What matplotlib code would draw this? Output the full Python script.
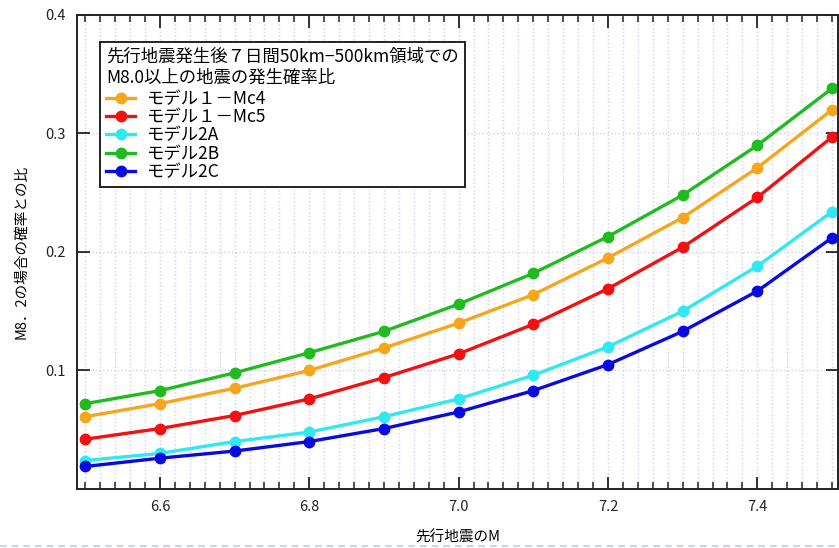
import numpy as np
import matplotlib
matplotlib.use("Agg")
import matplotlib.pyplot as plt
from matplotlib.ticker import MultipleLocator, FixedLocator
from matplotlib.lines import Line2D

plt.rcParams['font.family'] = ['Noto Sans CJK JP', 'DejaVu Sans']

magnitudes = [6.5, 6.6, 6.7, 6.8, 6.9, 7.0, 7.1, 7.2, 7.3, 7.4, 7.5]
model1_mc4 = [0.061, 0.072, 0.085, 0.100, 0.119, 0.140, 0.164, 0.195, 0.229, 0.271, 0.320]
model1_mc5 = [0.042, 0.051, 0.062, 0.076, 0.094, 0.114, 0.139, 0.169, 0.204, 0.246, 0.297]
model2a = [0.024, 0.030, 0.040, 0.048, 0.061, 0.076, 0.096, 0.120, 0.150, 0.188, 0.234]
model2b = [0.072, 0.083, 0.098, 0.115, 0.133, 0.156, 0.182, 0.213, 0.248, 0.290, 0.338]
model2c = [0.019, 0.026, 0.032, 0.040, 0.051, 0.065, 0.083, 0.105, 0.133, 0.167, 0.212]

labels = ['モデル１－Mc4', 'モデル１－Mc5', 'モデル2A', 'モデル2B', 'モデル2C']
colors = ['#f7a51c', '#f21010', '#30e8f2', '#1fbb1f', '#0a0ae0']
legend_title = '先行地震発生後７日間50km−500km領域での\nM8.0以上の地震の発生確率比'

fig = plt.figure(figsize=(8.39, 5.48), dpi=100)
ax = fig.add_axes([0.0918, 0.1077, 0.907, 0.865])

series = [model1_mc4, model1_mc5, model2a, model2b, model2c]
for vals, lab, col in zip(series, labels, colors):
    ax.plot(magnitudes, vals, '-o', color=col, lw=2.4, ms=7.5, label=lab)

ax.set_xlim(6.489, 7.508)
ax.set_ylim(0, 0.4)
ax.xaxis.set_major_locator(FixedLocator([6.6, 6.8, 7.0, 7.2, 7.4]))
ax.xaxis.set_minor_locator(MultipleLocator(0.02))
ax.set_yticks([0.1, 0.2, 0.3, 0.4])
ax.set_xticklabels(['6.6', '6.8', '7.0', '7.2', '7.4'])
ax.set_yticklabels(['0.1', '0.2', '0.3', '0.4'])
ax.tick_params(which='both', direction='in', top=True, right=True, labelsize=10.5, colors='#222222')
ax.tick_params(which='major', length=9, width=1.3, pad=8)
ax.tick_params(which='minor', length=5, width=1.1)

ax.grid(which='minor', axis='x', color='#cfcff0', ls=':', lw=1.0)
ax.grid(which='major', axis='x', color='#cfcff0', ls=':', lw=1.0)
ax.grid(which='major', axis='y', color='#cfcff0', ls=':', lw=1.0)
ax.set_axisbelow(True)
for sp in ax.spines.values():
    sp.set_linewidth(1.4)
    sp.set_color('#222222')

ax.set_xlabel('先行地震のM', fontsize=10.5, labelpad=12)
ax.set_ylabel('M8．2の場合の確率との比', fontsize=10.5, labelpad=12)

leg = ax.legend(title=legend_title, loc='upper left', bbox_to_anchor=(0.030, 0.943),
                borderaxespad=0, fontsize=12.5, title_fontsize=12.5, fancybox=False,
                edgecolor='#222222', framealpha=1, handlelength=1.7, handletextpad=0.6,
                labelspacing=0.02, borderpad=0.35, alignment='left')
leg.get_frame().set_linewidth(1.4)
leg._legend_box.sep = 2

# dashed line at bottom of the page capture
fig.add_artist(Line2D([0.0, 1.0], [0.003, 0.003], transform=fig.transFigure,
                      color='#b8cce8', lw=1.2, ls=(0, (4, 3))))

fig.savefig('out.png', dpi=100)
